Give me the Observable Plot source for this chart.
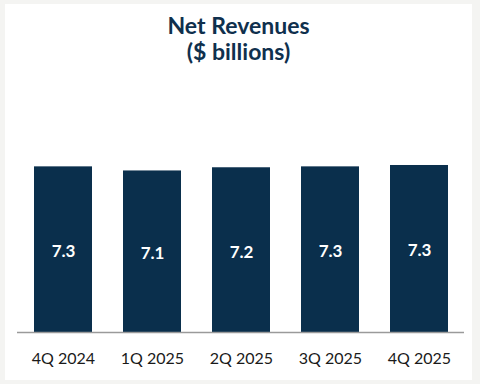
<!DOCTYPE html>
<html>
<head>
<meta charset="utf-8">
<script src="https://cdn.jsdelivr.net/npm/d3@7"></script>
<script src="https://cdn.jsdelivr.net/npm/@observablehq/plot@0.6"></script>
<style>
  html, body { margin: 0; padding: 0; background: #f4f4f2; width: 480px; height: 384px; overflow: hidden; }
  #panel { position: absolute; left: 5px; top: 4px; width: 467px; height: 376px; background: #ffffff; }
  #title { position: absolute; left: 0; top: 8px; width: 467px; text-align: center;
           font-family: Lato, "Noto Sans", sans-serif; font-weight: 700; font-size: 23px;
           line-height: 26px; color: #0f304d; }
  #chart { position: absolute; left: 0; top: 66px; }
</style>
</head>
<body>
<div id="panel">
  <div id="title">Net Revenues<br>($ billions)</div>
  <div id="chart"></div>
</div>
<script>
const quarters = ["4Q 2024", "1Q 2025", "2Q 2025", "3Q 2025", "4Q 2025"];
const revenues = [7.28, 7.10, 7.24, 7.28, 7.34];
const labels = ["7.3", "7.1", "7.2", "7.3", "7.3"];

const data = quarters.map((q, i) => ({q, v: revenues[i], label: labels[i]}));

const chart = Plot.plot({
  width: 467,
  height: 310,
  marginLeft: 12,
  marginRight: 8,
  marginTop: 24,
  marginBottom: 48,
  style: {background: "transparent", fontFamily: "Lato, 'Noto Sans', sans-serif"},
  x: {domain: quarters, paddingInner: 0.35, paddingOuter: 0.175, label: null},
  y: {domain: [0, 10.46], axis: null},
  marks: [
    Plot.barY(data, {x: "q", y: "v", fill: "#0a2f4c"}),
    Plot.text(data, {x: "q", y: d => d.v / 2, text: "label", fill: "white",
      fontSize: 17, fontWeight: 700, dy: 2}),
    Plot.ruleY([0], {stroke: "#9a9a9a", strokeWidth: 1.5}),
    Plot.axisX({tickSize: 0, tickPadding: 20, fontSize: 16, fill: "#1a1a1a", label: null})
  ]
});
document.getElementById("chart").appendChild(chart);
</script>
</body>
</html>
